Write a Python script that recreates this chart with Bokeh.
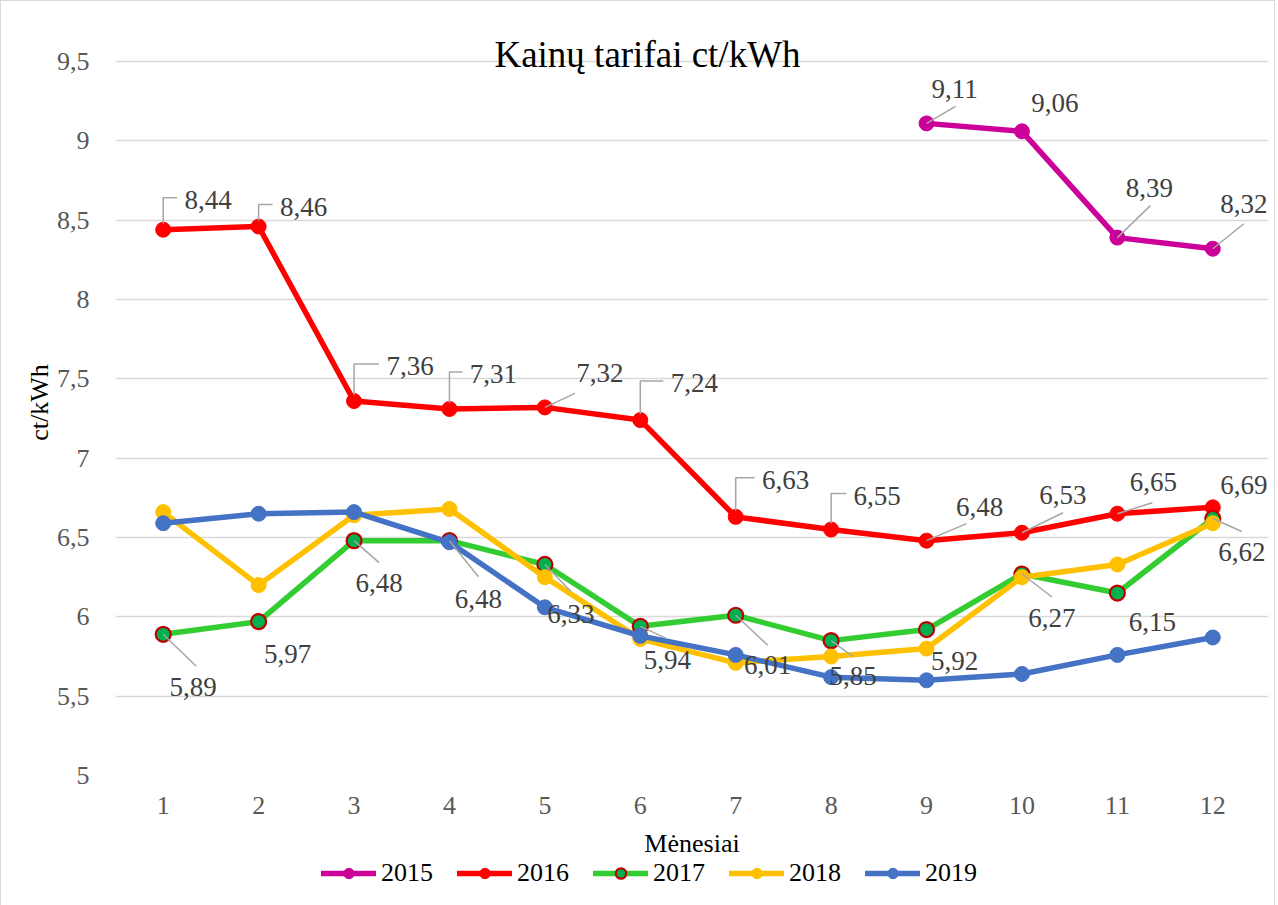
from bokeh.plotting import figure
from bokeh.layouts import column
from bokeh.models import (Range1d, FixedTicker, CustomJSTickFormatter, Legend,
                          LegendItem, Label, ColumnDataSource)
from bokeh.embed import file_html
from bokeh.resources import INLINE
from bokeh.core.properties import value

# ---------------- data ----------------
months = [1, 2, 3, 4, 5, 6, 7, 8, 9, 10, 11, 12]
months_2015 = [9, 10, 11, 12]
v2015 = [9.11, 9.06, 8.39, 8.32]
v2016 = [8.44, 8.46, 7.36, 7.31, 7.32, 7.24, 6.63, 6.55, 6.48, 6.53, 6.65, 6.69]
v2017 = [5.89, 5.97, 6.48, 6.48, 6.33, 5.94, 6.01, 5.85, 5.92, 6.27, 6.15, 6.62]
v2018 = [6.66, 6.20, 6.64, 6.68, 6.25, 5.86, 5.71, 5.75, 5.80, 6.25, 6.33, 6.59]
v2019 = [6.59, 6.65, 6.66, 6.47, 6.06, 5.88, 5.76, 5.62, 5.60, 5.64, 5.76, 5.87]
y_ticks = [5, 5.5, 6, 6.5, 7, 7.5, 8, 8.5, 9, 9.5]
x_ticks = months
title_text = "Kainų tarifai ct/kWh"
x_title = "Mėnesiai"
y_title = "ct/kWh"

# ---------------- label placement (pixel offsets, screen y downwards) -------
lab_2015 = [(28, -34), (33, -28), (32, -50), (31, -45)]
lead_2015 = [("d", 29, -17), None, ("d", 33, -32), ("d", 31, -25)]
lab_2016 = [(45, -30), (45, -20), (56, -35), (44, -35), (55, -34), (54, -37),
            (50, -37), (46, -34), (53, -34), (41, -38), (36, -32), (31, -22)]
lead_2016 = ["e", "e", "e", "e", ("d", 30, -14), "e", "e", "e",
             ("d", 40, -17), ("d", 41, -20), ("d", 35, -11), None]
lab_2017 = [(30, 53), (29, 32), (25, 42), (29, 58), (26, 50), (27, 34),
            (32, 50), (22, 35), (28, 31), (30, 44), (35, 29), (29, 34)]
lead_2017 = [("d", 33, 32), None, ("d", 25, 22), ("d", 29, 36), ("d", 26, 27),
             ("d", 26, 12), ("d", 32, 30), ("d", 22, 16), None, ("d", 30, 23),
             None, ("d", 29, 13)]

# ---------------- layout ----------------
PX = 1145 / 12.0          # pixels per month
PY = 714 / 4.5            # pixels per ct/kWh
LEFT = 114
X0, X1 = 0.5, 12.5 + 8 / PX
Y0, Y1 = 5, 9.5 + 32 / PY
FRAME_W = int(round((X1 - X0) * PX))
FRAME_H = int(round((Y1 - Y0) * PY))
TOP = 774 - FRAME_H
RIGHT = 6
BOTTOM = 82
TOTAL_W = LEFT + FRAME_W + RIGHT

FONT = "Liberation Serif"
GRID = "#d9d9d9"

p = figure(frame_width=FRAME_W, frame_height=FRAME_H,
           x_range=Range1d(X0, X1), y_range=Range1d(Y0, Y1),
           min_border_left=LEFT, min_border_right=RIGHT,
           min_border_top=TOP, min_border_bottom=BOTTOM,
           output_backend="svg", toolbar_location=None, title=None)
p.outline_line_color = None
p.background_fill_color = "white"
p.border_fill_color = "white"

p.xgrid.grid_line_color = None
p.ygrid.grid_line_color = GRID
p.ygrid.grid_line_width = 1.5
p.ygrid.ticker = FixedTicker(ticks=y_ticks)

fmt = CustomJSTickFormatter(code="return String(tick).replace('.', ',');")
p.yaxis.ticker = FixedTicker(ticks=y_ticks)
p.yaxis.formatter = fmt
p.xaxis.ticker = FixedTicker(ticks=x_ticks)
for ax in (p.xaxis, p.yaxis):
    ax.axis_line_color = None
    ax.major_tick_line_color = None
    ax.minor_tick_line_color = None
    ax.major_tick_out = 0
    ax.major_label_text_font = FONT
    ax.major_label_text_font_size = "26px"
    ax.major_label_text_color = "#595959"
    ax.axis_label_text_font = FONT
    ax.axis_label_text_font_size = "26px"
    ax.axis_label_text_font_style = "normal"
    ax.axis_label_text_color = "#000000"
p.yaxis.major_label_standoff = 26
p.yaxis.axis_label = y_title
p.yaxis.axis_label_standoff = 0
p.xaxis.major_label_standoff = 21
p.xaxis.axis_label = x_title
p.xaxis.axis_label_standoff = 12

# ---------------- legend strip ----------------
LEG_H = 47
lf = figure(width=TOTAL_W, height=LEG_H, x_range=Range1d(0, 1),
            y_range=Range1d(0, 1), min_border=0, output_backend="svg",
            toolbar_location=None, x_axis_location=None,
            y_axis_location=None, title=None)
lf.grid.visible = False
lf.outline_line_color = None
lf.background_fill_color = "white"
lf.border_fill_color = "white"

# ---------------- series ----------------
series = [
    ("2015", months_2015, v2015, "#CC0099", "#CC0099", "#CC0099"),
    ("2016", months, v2016, "#FF0000", "#FF0000", "#FF0000"),
    ("2017", months, v2017, "#33CC33", "#00B050", "#C00000"),
    ("2018", months, v2018, "#FFC000", "#FFC000", "#FFC000"),
    ("2019", months, v2019, "#4472C4", "#4472C4", "#4472C4"),
]
items = []
for name, xs, ys, lc, fc, oc in series:
    src = ColumnDataSource(dict(x=xs, y=ys))
    lw = 2.2 if name == "2017" else 1
    p.line("x", "y", source=src, line_color=lc, line_width=5.5,
           line_join="round", line_cap="round")
    p.scatter("x", "y", source=src, size=15, fill_color=fc,
              line_color=oc, line_width=lw)
    # legend swatch renderers (hidden in the strip, only used for the keys)
    l1 = lf.line("x", "y", source=src, line_color=lc, line_width=5.5,
                 line_cap="round", visible=False)
    l2 = lf.scatter("x", "y", source=src, size=15, fill_color=fc,
                    line_color=oc, line_width=lw, visible=False)
    items.append(LegendItem(label=name, renderers=[l1, l2]))

# ---------------- data labels + leader lines ----------------
lx, ly, lt, ldx, ldy = [], [], [], [], []
lead_xs, lead_ys = [], []
for xs, ys, labs, leads in [(months_2015, v2015, lab_2015, lead_2015),
                            (months, v2016, lab_2016, lead_2016),
                            (months, v2017, lab_2017, lead_2017)]:
    for x, y, (dx, dy), ld in zip(xs, ys, labs, leads):
        lx.append(x)
        ly.append(y)
        lt.append(f"{y:.2f}".replace(".", ","))
        ldx.append(dx)
        ldy.append(dy)
        if ld is None:
            continue
        if ld == "e":
            ex, ey = dx - 31, dy - 2
            lead_xs.append([x, x, x + ex / PX])
            lead_ys.append([y + 6 / PY, y - ey / PY, y - ey / PY])
        else:
            _, ex, ey = ld
            lead_xs.append([x, x + ex / PX])
            lead_ys.append([y, y - ey / PY])

p.multi_line(lead_xs, lead_ys, line_color="#a6a6a6", line_width=1.5)
p.text(lx, ly, text=lt, x_offset=ldx, y_offset=ldy,
       text_font=value(FONT), text_font_size="27px", text_color="#404040",
       text_align="center", text_baseline="middle")

# ---------------- title ----------------
title_x = X0 + (646 - LEFT) / PX
p.add_layout(Label(x=title_x, y=9.5 + 7 / PY, text=title_text, text_font=FONT,
                   text_font_size="37px", text_color="#000000",
                   text_align="center", text_baseline="middle"))

# ---------------- legend ----------------
legend = Legend(items=items, orientation="horizontal",
                location=(320 - LEFT, LEG_H - 28),
                label_text_font=FONT, label_text_font_size="26px",
                label_text_color="#000000", glyph_width=55, glyph_height=26,
                label_height=26, label_standoff=5, spacing=24, padding=0,
                margin=0, border_line_color=None, background_fill_alpha=0)
lf.add_layout(legend, "center")

layout = column(p, lf, spacing=0)
layout.styles = {"border": "1px solid #d9d9d9"}

open("out.html", "w").write(file_html(layout, INLINE))
